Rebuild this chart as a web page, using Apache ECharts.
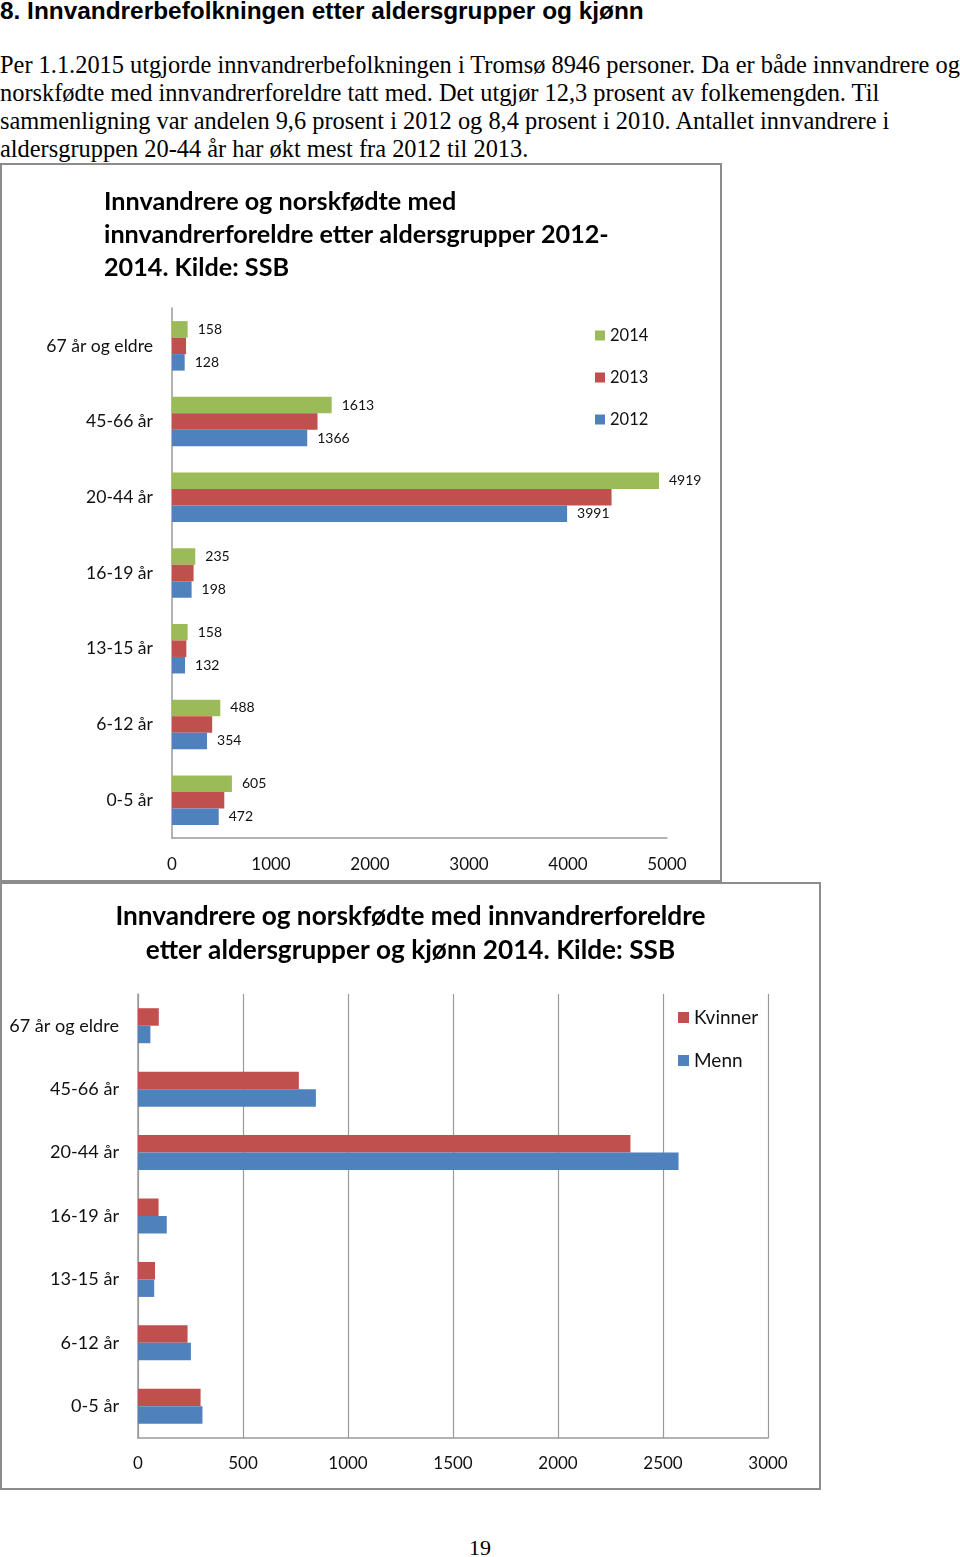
<!DOCTYPE html>
<html>
<head>
<meta charset="utf-8">
<script src="https://cdn.jsdelivr.net/npm/echarts@6/dist/echarts.min.js"></script>
<style>
  html, body { margin: 0; padding: 0; background: #fff; }
  body { width: 960px; height: 1557px; position: relative; overflow: hidden; }
  #heading { position: absolute; left: 0; top: -3px; font-family: "Liberation Sans", Arial, sans-serif; font-weight: bold; font-size: 24.4px; color: #000; white-space: nowrap; }
  #para { position: absolute; left: 0; top: 51px; font-family: "Liberation Serif", "Times New Roman", serif; font-size: 24.4px; line-height: 28px; color: #000; white-space: nowrap; }
  #pagenum { position: absolute; left: 469px; top: 1535px; font-family: "Liberation Serif", serif; font-size: 22px; color: #000; }
  .chartbox { position: absolute; outline: 2px solid #8c8c8c; outline-offset: -2px; }
  #chart1 { left: 0; top: 163px; width: 722px; height: 719px; }
  #chart2 { left: 0; top: 882px; width: 821px; height: 608px; }
</style>
</head>
<body>
<div id="heading">8. Innvandrerbefolkningen etter aldersgrupper og kjønn</div>
<div id="para">Per 1.1.2015 utgjorde innvandrerbefolkningen i Tromsø 8946 personer. Da er både innvandrere og<br>norskfødte med innvandrerforeldre tatt med. Det utgjør 12,3 prosent av folkemengden. Til<br>sammenligning var andelen 9,6 prosent i 2012 og 8,4 prosent i 2010. Antallet innvandrere i<br>aldersgruppen 20-44 år har økt mest fra 2012 til 2013.</div>
<div id="chart1" class="chartbox"></div>
<div id="chart2" class="chartbox"></div>
<div id="pagenum">19</div>
<script>
// ---- Data: chart 1 ----
const ageGroups = ['0-5 år', '6-12 år', '13-15 år', '16-19 år', '20-44 år', '45-66 år', '67 år og eldre'];
const years = ['2014', '2013', '2012'];
const values2014 = [605, 488, 158, 235, 4919, 1613, 158];
const values2013 = [528, 406, 145, 218, 4440, 1470, 142];
const values2012 = [472, 354, 132, 198, 3991, 1366, 128];
const chart1Title = 'Innvandrere og norskfødte med\ninnvandrerforeldre etter aldersgrupper 2012-\n2014. Kilde: SSB';

// ---- Data: chart 2 ----
const genders = ['Kvinner', 'Menn'];
const valuesKvinner = [298, 236, 81, 98, 2345, 766, 99];
const valuesMenn = [307, 252, 77, 137, 2574, 847, 59];
const chart2Title = 'Innvandrere og norskfødte med innvandrerforeldre\netter aldersgrupper og kjønn 2014. Kilde: SSB';

const FONT = 'Lato, "Open Sans", sans-serif';
const GREEN = '#9BBB59', RED = '#C0504D', BLUE = '#4F81BD';
const AXIS_GREY = '#9a9a9a';
const TXT = '#111';
const plain = v => String(v);

const c1 = echarts.init(document.getElementById('chart1'), null, { renderer: 'canvas' });
const labelOn = { show: true, position: 'right', distance: 10, fontSize: 14, color: TXT, fontFamily: FONT };
c1.setOption({
  animation: false,
  title: {
    text: chart1Title, left: 99, top: 17,
    textStyle: { fontFamily: FONT, fontSize: 25.2, fontWeight: 'bold', color: '#000', lineHeight: 33 }
  },
  legend: {
    data: years, orient: 'vertical', left: 590, top: 159,
    itemWidth: 10, itemHeight: 10, itemGap: 25, icon: 'rect',
    textStyle: { fontFamily: FONT, fontSize: 16.5, color: TXT, lineHeight: 16 }
  },
  grid: { left: 172, right: 55, top: 145, height: 530, containLabel: false },
  xAxis: {
    type: 'value', min: 0, max: 5000, interval: 1000,
    axisLine: { show: true, lineStyle: { color: AXIS_GREY, width: 1.5 } },
    axisTick: { show: false },
    splitLine: { show: false },
    axisLabel: { fontFamily: FONT, fontSize: 17, color: TXT, margin: 18, formatter: plain }
  },
  yAxis: {
    type: 'category', data: ageGroups,
    axisLine: { show: true, lineStyle: { color: AXIS_GREY, width: 1.5 } },
    axisTick: { show: false },
    axisLabel: { fontFamily: FONT, fontSize: 17.6, color: TXT, margin: 19 }
  },
  series: [
    { name: '2014', type: 'bar', data: values2014, barWidth: 16.5, barGap: '0%', itemStyle: { color: GREEN }, label: labelOn },
    { name: '2013', type: 'bar', data: values2013, barWidth: 16.5, barGap: '0%', itemStyle: { color: RED } },
    { name: '2012', type: 'bar', data: values2012, barWidth: 16.5, barGap: '0%', itemStyle: { color: BLUE }, label: labelOn }
  ]
});

const c2 = echarts.init(document.getElementById('chart2'), null, { renderer: 'canvas' });
c2.setOption({
  animation: false,
  title: {
    text: chart2Title, left: 'center', top: 13,
    textStyle: { fontFamily: FONT, fontSize: 26.2, fontWeight: 'bold', color: '#000', lineHeight: 34 }
  },
  legend: {
    data: genders, orient: 'vertical', left: 673, top: 121,
    itemWidth: 11, itemHeight: 11, itemGap: 24, icon: 'rect',
    textStyle: { fontFamily: FONT, fontSize: 19, color: TXT, lineHeight: 19 }
  },
  grid: { left: 138, right: 53, top: 112, height: 444, containLabel: false },
  xAxis: {
    type: 'value', min: 0, max: 3000, interval: 500,
    axisLine: { show: true, lineStyle: { color: AXIS_GREY, width: 1.5 } },
    axisTick: { show: false },
    splitLine: { show: true, lineStyle: { color: AXIS_GREY, width: 1.2 } },
    axisLabel: { fontFamily: FONT, fontSize: 17, color: TXT, margin: 17, formatter: plain }
  },
  yAxis: {
    type: 'category', data: ageGroups,
    axisLine: { show: true, lineStyle: { color: AXIS_GREY, width: 1.5 } },
    axisTick: { show: false },
    axisLabel: { fontFamily: FONT, fontSize: 18.1, color: TXT, margin: 19 }
  },
  series: [
    { name: 'Kvinner', type: 'bar', data: valuesKvinner, barWidth: 17.5, barGap: '0%', itemStyle: { color: RED } },
    { name: 'Menn', type: 'bar', data: valuesMenn, barWidth: 17.5, barGap: '0%', itemStyle: { color: BLUE } }
  ]
});
</script>
</body>
</html>
